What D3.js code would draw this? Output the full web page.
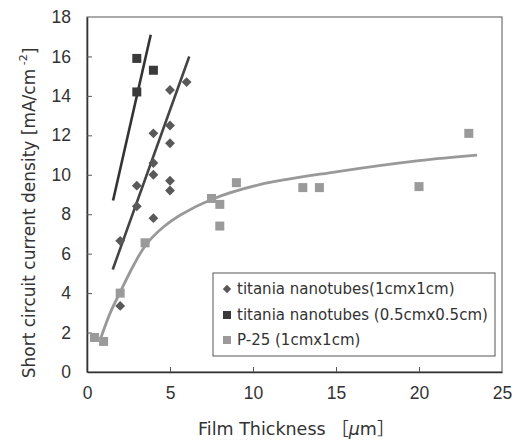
<!DOCTYPE html>
<html>
<head>
<meta charset="utf-8">
<script src="https://cdn.jsdelivr.net/npm/d3@7"></script>
<style>
  body { margin: 0; background: #fff; }
  svg text { font-family: "DejaVu Sans", "Noto Sans CJK JP", sans-serif; fill: #333; }
</style>
</head>
<body>
<div id="chart"></div>
<script>
// data
var xTicks = [0, 5, 10, 15, 20, 25];
var yTicks = [0, 2, 4, 6, 8, 10, 12, 14, 16, 18];

var tube1X = [2, 2, 3, 3, 4, 4, 4, 4, 5, 5, 5, 5, 5, 6];
var tube1Y = [6.65, 3.35, 9.45, 8.4, 12.1, 10.6, 10.0, 7.8, 14.3, 12.5, 11.6, 9.7, 9.2, 14.7];

var tube05X = [3, 3, 4];
var tube05Y = [15.9, 14.2, 15.3];

var p25X = [0.45, 1, 2, 3.5, 7.5, 8, 8, 9, 13, 14, 20, 23];
var p25Y = [1.75, 1.55, 4.0, 6.55, 8.8, 8.5, 7.4, 9.6, 9.35, 9.35, 9.4, 12.1];

// fitted lines / curve as drawn in the figure
var fit05X = [1.57, 3.84];
var fit05Y = [8.7, 17.1];
var fit1X = [1.55, 6.16];
var fit1Y = [5.2, 16.0];
var fitP25X = [0.82, 1.4, 2, 2.8, 3.55, 4.6, 5.6, 7.5, 10.4, 15, 20, 23.5];
var fitP25Y = [1.7, 3.0, 4.05, 5.4, 6.45, 7.35, 7.95, 8.75, 9.5, 10.15, 10.72, 11.0];

var legendLabels = ["titania nanotubes(1cmx1cm)", "titania nanotubes (0.5cmx0.5cm)", "P-25 (1cmx1cm)"];

var colTube1 = "#595959", colTube05 = "#3a3a3a", colP25 = "#9a9a9a";

var width = 516, height = 440;
var margin = {top: 17, right: 14, bottom: 68, left: 87};
var plotW = width - margin.left - margin.right;
var plotH = height - margin.top - margin.bottom;

var svg = d3.select("#chart").append("svg")
  .attr("width", width)
  .attr("height", height);
var g = svg.append("g")
  .attr("transform", "translate(" + margin.left + "," + margin.top + ")");

var x = d3.scaleLinear().domain([0, 25]).range([0, plotW]);
var y = d3.scaleLinear().domain([0, 18]).range([plotH, 0]);

// frame
g.append("rect")
  .attr("width", plotW)
  .attr("height", plotH)
  .attr("fill", "none")
  .attr("stroke", "#555")
  .attr("stroke-width", 1);

var xAxis = g.append("g")
  .attr("transform", "translate(0," + plotH + ")")
  .call(d3.axisBottom(x).tickValues(xTicks).tickSizeInner(-5).tickSizeOuter(0).tickPadding(15));
var yAxis = g.append("g")
  .call(d3.axisLeft(y).tickValues(yTicks).tickSizeInner(-5).tickSizeOuter(0).tickPadding(16));
[xAxis, yAxis].forEach(function(a) {
  a.select(".domain").attr("stroke", "#333").attr("stroke-width", 1.6);
  a.selectAll(".tick line").attr("stroke", "#555");
  a.selectAll(".tick text").attr("font-size", "17.5px").attr("fill", "#333")
    .style("font-family", "'Liberation Sans', Arial, sans-serif");
});
xAxis.selectAll(".tick line").filter(function(d) { return d === 0 || d === 25; }).remove();
yAxis.selectAll(".tick line").filter(function(d) { return d === 0 || d === 18; }).remove();

// fit lines
var line = d3.line().x(d => x(d[0])).y(d => y(d[1]));
g.append("path")
  .datum(d3.zip(fit05X, fit05Y))
  .attr("d", line)
  .attr("fill", "none")
  .attr("stroke", "#333")
  .attr("stroke-width", 2.6);
g.append("path")
  .datum(d3.zip(fit1X, fit1Y))
  .attr("d", line)
  .attr("fill", "none")
  .attr("stroke", "#444")
  .attr("stroke-width", 2.6);
g.append("path")
  .datum(d3.zip(fitP25X, fitP25Y))
  .attr("d", d3.line().x(d => x(d[0])).y(d => y(d[1])).curve(d3.curveCatmullRom))
  .attr("fill", "none")
  .attr("stroke", "#999")
  .attr("stroke-width", 2.8);

// markers
var sq = 9;
g.selectAll(".p25").data(d3.zip(p25X, p25Y)).enter().append("rect")
  .attr("class", "p25")
  .attr("x", d => x(d[0]) - sq / 2)
  .attr("y", d => y(d[1]) - sq / 2)
  .attr("width", sq).attr("height", sq)
  .attr("fill", colP25);
g.selectAll(".t05").data(d3.zip(tube05X, tube05Y)).enter().append("rect")
  .attr("class", "t05")
  .attr("x", d => x(d[0]) - sq / 2)
  .attr("y", d => y(d[1]) - sq / 2)
  .attr("width", sq).attr("height", sq)
  .attr("fill", colTube05);
var diamond = d3.symbol().type(d3.symbolDiamond2).size(62);
g.selectAll(".t1").data(d3.zip(tube1X, tube1Y)).enter().append("path")
  .attr("class", "t1")
  .attr("transform", d => "translate(" + x(d[0]) + "," + y(d[1]) + ")")
  .attr("d", diamond)
  .attr("fill", colTube1);

// legend
var legend = svg.append("g").attr("transform", "translate(213,273)");
legend.append("rect")
  .attr("width", 282).attr("height", 83)
  .attr("fill", "#fff")
  .attr("stroke", "#555").attr("stroke-width", 1);
var rowY = [16, 42, 67];
legend.append("path")
  .attr("transform", "translate(14," + rowY[0] + ")")
  .attr("d", d3.symbol().type(d3.symbolDiamond2).size(45))
  .attr("fill", colTube1);
legend.append("rect")
  .attr("x", 10).attr("y", rowY[1] - 4).attr("width", 8).attr("height", 8)
  .attr("fill", colTube05);
legend.append("rect")
  .attr("x", 10).attr("y", rowY[2] - 4).attr("width", 8).attr("height", 8)
  .attr("fill", colP25);
legend.selectAll(".lab").data(legendLabels).enter().append("text")
  .attr("class", "lab")
  .attr("x", 24)
  .attr("y", (d, i) => rowY[i])
  .attr("dy", "0.36em")
  .attr("font-size", "15px")
  .text(d => d);

// axis titles
var xt = svg.append("text")
  .attr("x", 198).attr("y", 435)
  .attr("font-size", "17.5px");
xt.append("tspan").text("Film Thickness ［");
xt.append("tspan").attr("font-style", "italic").text("μ");
xt.append("tspan").text("m］");

var yt = svg.append("text")
  .attr("transform", "translate(35,213) rotate(-90)")
  .attr("text-anchor", "middle")
  .attr("font-size", "17px");
yt.append("tspan").text("Short circuit current density [mA/cm");
yt.append("tspan").attr("font-size", "11px").attr("dy", "-0.7em").text(" -2");
yt.append("tspan").attr("dy", "0.5em").text("]");
</script>
</body>
</html>
